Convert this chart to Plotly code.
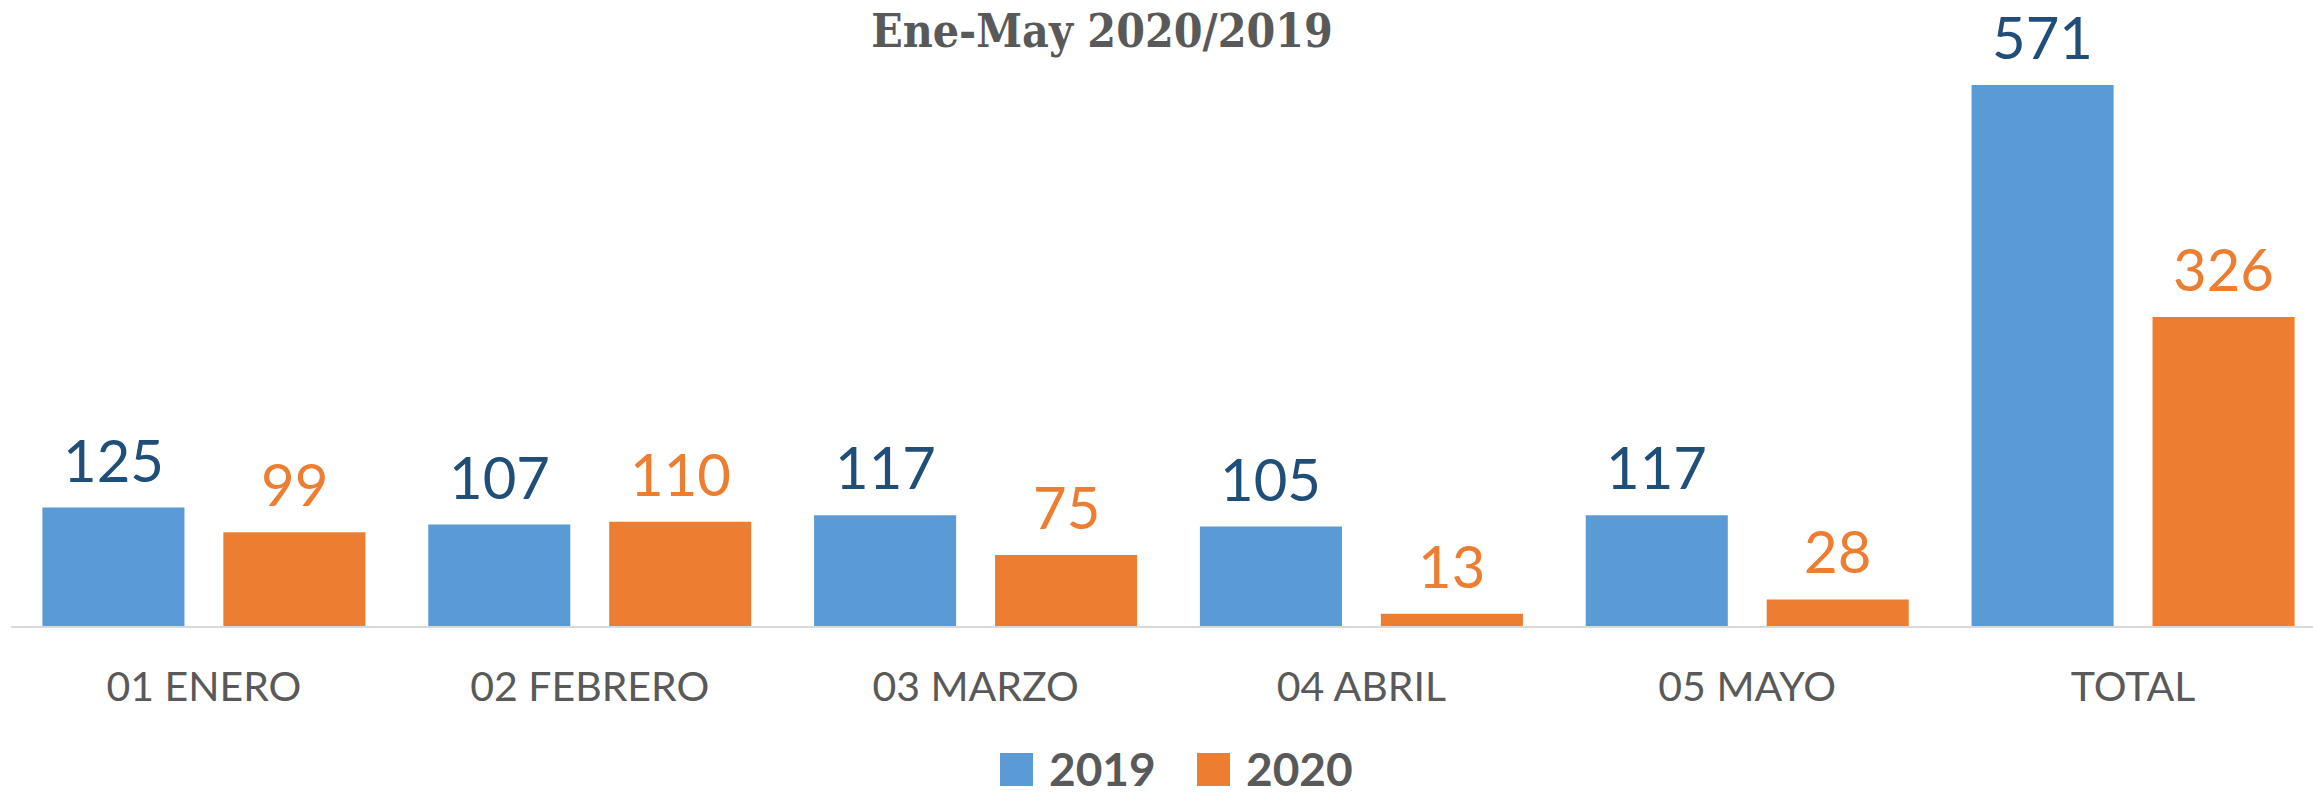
import plotly.graph_objects as go

categories = ["01 ENERO", "02 FEBRERO", "03 MARZO", "04 ABRIL", "05 MAYO", "TOTAL"]
series_names = ["2019", "2020"]
values_2019 = [125, 107, 117, 105, 117, 571]
values_2020 = [99, 110, 75, 13, 28, 326]
title_text = "Ene-May 2020/2019"

W, H = 2313, 795
ML, MR, MT, MB = 11, 0, 60, 169
PLOT_W = W - ML - MR
PLOT_H = H - MT - MB
BAR_COLORS = ["#5B9BD5", "#ED7D31"]
LABEL_COLORS = ["#1F4E79", "#ED7D31"]
GRAY = "#595959"
YMAX = PLOT_H / 0.9475
XMAX = 5.5 - 13 / 385.8


def px_x(px):
    return (px - ML) / PLOT_W


def px_y(py):
    return (H - MB - py) / PLOT_H


fig = go.Figure()
all_values = [values_2019, values_2020]
for name, vals, col in zip(series_names, all_values, BAR_COLORS):
    fig.add_trace(go.Bar(x=categories, y=vals, name=name, marker_color=col,
                         marker_line_width=0, showlegend=False, hoverinfo="skip"))

# data labels
offset = 90.5 / 385.8
annotations = []
for s, (vals, lc) in enumerate(zip(all_values, LABEL_COLORS)):
    sgn = -1 if s == 0 else 1
    for i, v in enumerate(vals):
        annotations.append(dict(x=i + sgn * offset, y=v, xref="x", yref="y",
                                text=str(v), showarrow=False, yanchor="bottom",
                                yshift=12, font=dict(family="Lato", size=58, color=lc)))

# legend (manual)
shapes = []
legend_sq = [(1000, 1033), (1197, 1230)]
legend_txt_x = [1047, 1244]
for name, col, (x0, x1), tx in zip(series_names, BAR_COLORS, legend_sq, legend_txt_x):
    shapes.append(dict(type="rect", xref="paper", yref="paper",
                       x0=px_x(x0), x1=px_x(x1), y0=px_y(786), y1=px_y(753),
                       fillcolor=col, line_width=0))
    annotations.append(dict(x=px_x(tx), y=px_y(768), xref="paper", yref="paper",
                            text="<b>" + name + "</b>", showarrow=False,
                            xanchor="left", yanchor="middle",
                            font=dict(family="Lato", size=46, color=GRAY)))

fig.update_layout(
    width=W, height=H,
    margin=dict(l=ML, r=MR, t=MT, b=MB, pad=0),
    paper_bgcolor="white", plot_bgcolor="white",
    barmode="group", bargap=0.062, bargroupgap=0.215,
    title=dict(text="<b>" + title_text + "</b>", x=1102 / W, xanchor="center",
               xref="container", yref="container", y=1 - 31 / H, yanchor="middle",
               font=dict(family="DejaVu Serif Condensed", size=46, color=GRAY)),
    xaxis=dict(range=[-0.5, XMAX], showline=True, linecolor="#D9D9D9", linewidth=2,
               showgrid=False, ticks="outside", ticklen=24, tickcolor="rgba(0,0,0,0)",
               tickfont=dict(family="Lato", size=41, color=GRAY)),
    yaxis=dict(range=[0, YMAX], visible=False, showgrid=False, zeroline=False),
    annotations=annotations, shapes=shapes,
    showlegend=False,
)

fig.write_html("out.html", config={"displayModeBar": False},
               post_script="document.body.style.margin='0';")
